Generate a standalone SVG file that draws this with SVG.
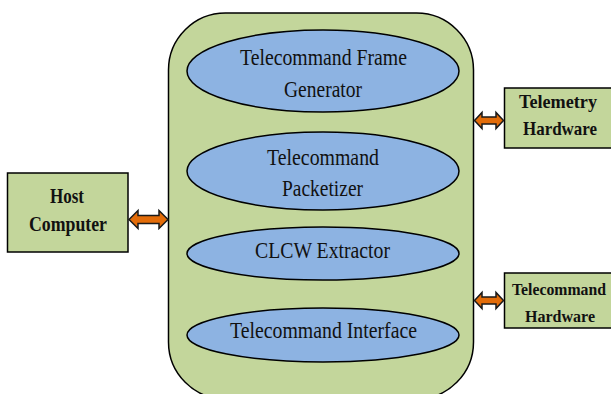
<svg xmlns="http://www.w3.org/2000/svg" width="611" height="394" viewBox="0 0 611 394">
<style>
.box{fill:#C3D69B;stroke:#000;stroke-width:1.5}
.ell{fill:#8DB3E2;stroke:#000;stroke-width:1.5}
.arr{fill:#E36C09;stroke:#1a1a1a;stroke-width:1.5;stroke-linejoin:miter}
.t{font-family:"Liberation Serif","Times New Roman",serif;font-size:23px;fill:#111;text-anchor:middle}
.b{font-family:"Liberation Serif","Times New Roman",serif;font-weight:bold;fill:#111;text-anchor:middle}
</style>
<rect width="611" height="394" fill="#fff"/>
<g id="container">
<rect class="box" x="168.5" y="13" width="305" height="386" rx="57" ry="57"/>
</g>
<g id="frame-generator">
<ellipse class="ell" cx="323" cy="71" rx="136" ry="41"/>
<text class="t" x="323.5" y="65" textLength="167" lengthAdjust="spacingAndGlyphs">Telecommand Frame</text>
<text class="t" x="323" y="97" textLength="78" lengthAdjust="spacingAndGlyphs">Generator</text>
</g>
<g id="packetizer">
<ellipse class="ell" cx="323" cy="171" rx="136" ry="39"/>
<text class="t" x="323" y="165" textLength="112" lengthAdjust="spacingAndGlyphs">Telecommand</text>
<text class="t" x="322.5" y="196" textLength="81" lengthAdjust="spacingAndGlyphs">Packetizer</text>
</g>
<g id="clcw-extractor">
<ellipse class="ell" cx="323" cy="253.5" rx="136" ry="26.5"/>
<text class="t" x="322.5" y="258" textLength="135" lengthAdjust="spacingAndGlyphs">CLCW Extractor</text>
</g>
<g id="tc-interface">
<ellipse class="ell" cx="323" cy="335" rx="136" ry="27"/>
<text class="t" x="323.5" y="338" textLength="187" lengthAdjust="spacingAndGlyphs">Telecommand Interface</text>
</g>
<g id="host-computer">
<rect class="box" x="7.5" y="173" width="120.5" height="79"/>
<text class="b" x="67" y="203" font-size="21" textLength="34" lengthAdjust="spacingAndGlyphs">Host</text>
<text class="b" x="68" y="231" font-size="21" textLength="78" lengthAdjust="spacingAndGlyphs">Computer</text>
</g>
<g id="telemetry-hardware">
<rect class="box" x="504.5" y="88" width="110" height="60"/>
<text class="b" x="558" y="108" font-size="19" textLength="78" lengthAdjust="spacingAndGlyphs">Telemetry</text>
<text class="b" x="560" y="135" font-size="19" textLength="74" lengthAdjust="spacingAndGlyphs">Hardware</text>
</g>
<g id="telecommand-hardware">
<rect class="box" x="504.5" y="273" width="110" height="55"/>
<text class="b" x="559" y="295" font-size="17" textLength="94" lengthAdjust="spacingAndGlyphs">Telecommand</text>
<text class="b" x="560" y="322" font-size="17" textLength="70" lengthAdjust="spacingAndGlyphs">Hardware</text>
</g>
<g id="connectors">
<path class="arr" d="M129,219.5 L138,210.5 L138,215.5 L159,215.5 L159,210.5 L168,219.5 L159,228.5 L159,223.5 L138,223.5 L138,228.5 Z"/>
<path class="arr" d="M474.5,120.5 L482,112.5 L482,117 L496,117 L496,112.5 L503.5,120.5 L496,128.5 L496,124 L482,124 L482,128.5 Z"/>
<path class="arr" d="M474.5,300.5 L482,292.5 L482,297 L496,297 L496,292.5 L503.5,300.5 L496,308.5 L496,304 L482,304 L482,308.5 Z"/>
</g>
</svg>
